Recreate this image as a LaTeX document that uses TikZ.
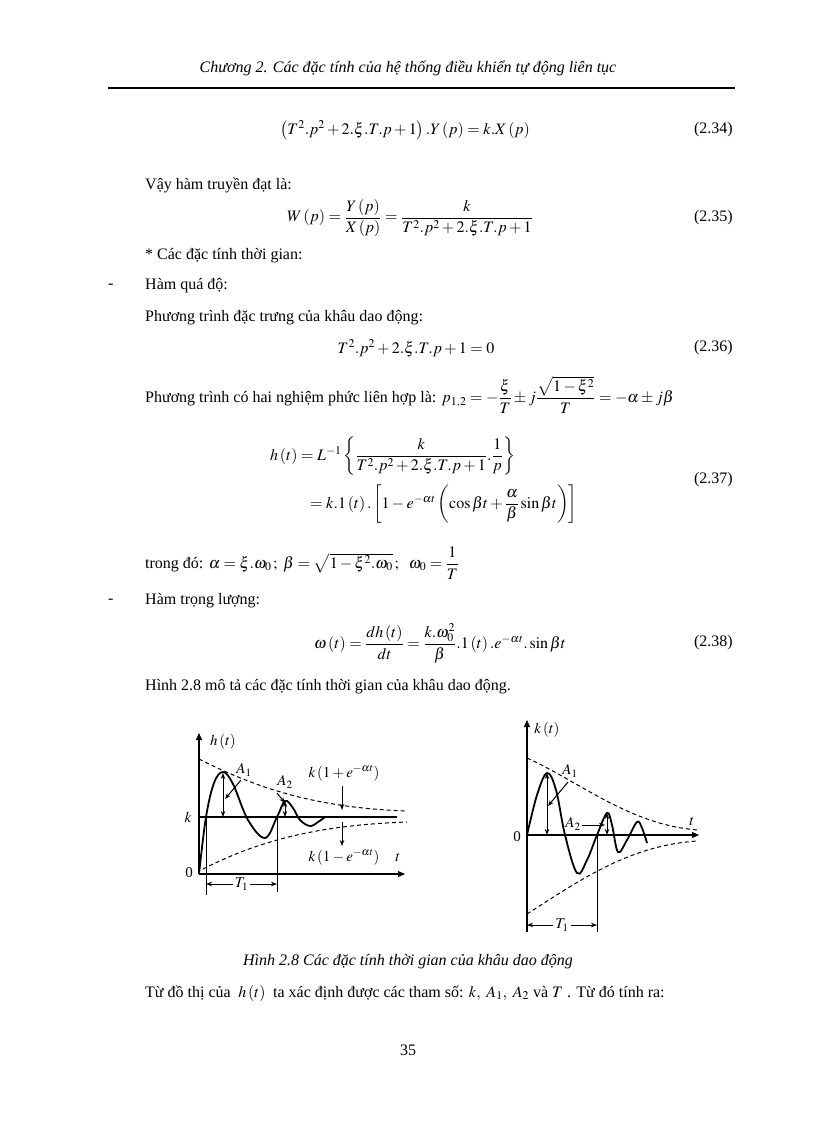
\documentclass[tikz,border=0pt]{standalone}
\usepackage{amsmath}
\usepackage{mathptmx}
\usepackage{fontspec}
\setmainfont{Liberation Serif}
\usetikzlibrary{arrows.meta}
\begin{document}
\begin{tikzpicture}[x=1pt,y=-1pt,
  txt/.style={anchor=west,inner sep=0pt,font=\fontsize{16}{19}\selectfont},
  eq/.style={inner sep=0pt,font=\fontsize{16}{19}\selectfont},
  lab/.style={anchor=east,inner sep=0pt,font=\fontsize{16}{19}\selectfont},
  axis/.style={line width=1.1pt,-{Triangle[length=7pt,width=6pt]}},
  curve/.style={line width=1.8pt},
  env/.style={line width=1pt,dash pattern=on 4pt off 3pt},
  dim/.style={line width=1pt,{Stealth[length=6pt]}-{Stealth[length=6pt]}},
  poin/.style={line width=1pt,-{Stealth[length=6pt]}},
  plab/.style={inner sep=0pt,font=\fontsize{15}{18}\selectfont}]
\useasboundingbox (0,0) rectangle (816,1123);
\node[eq,font=\fontsize{16}{19}\itshape] (hdr) at (408,68) {Chương 2. Các đặc tính của hệ thống điều khiển tự động liên tục};
\draw[line width=1.6pt] (108,88) -- (735,88);
\node[eq] (e34) at (405,130) {$\left(T^2.p^2+2.\xi.T.p+1\right).Y\left(p\right)=k.X\left(p\right)$};
\node[lab] at (733,130) {(2.34)};
\node[txt] at (145,185) {Vậy hàm truyền đạt là:};
\node[eq] (e35) at (410,218) {$W\left(p\right)=\dfrac{Y\left(p\right)}{X\left(p\right)}=\dfrac{k}{T^2.p^2+2.\xi.T.p+1}$};
\node[lab] at (733,218) {(2.35)};
\node[txt] at (145,256) {* Các đặc tính thời gian:};
\node[txt] at (108,286) {-};
\node[txt] at (145,286) {Hàm quá độ:};
\node[txt] at (145,318) {Phương trình đặc trưng của khâu dao động:};
\node[eq] (e36) at (416,348) {$T^2.p^2+2.\xi.T.p+1=0$};
\node[lab] at (733,348) {(2.36)};
\node[txt] at (145,395) {Phương trình có hai nghiệm phức liên hợp là: $p_{1,2}=-\dfrac{\xi}{T}\pm j\dfrac{\sqrt{1-\xi^2}}{T}=-\alpha\pm j\beta$};
\node[txt] (e37a) at (270,456) {$h\left(t\right)=L^{-1}\left\{\dfrac{k}{T^2.p^2+2.\xi.T.p+1}.\dfrac{1}{p}\right\}$};
\node[txt] (e37b) at (310,504) {$=k.1\left(t\right).\left[1-e^{-\alpha t}\left(\cos\beta t+\dfrac{\alpha}{\beta}\sin\beta t\right)\right]$};
\node[lab] at (733,480) {(2.37)};
\node[txt] at (145,563) {trong đó: $\alpha=\xi.\omega_0\,;\ \beta=\sqrt{1-\xi^2.\omega_0}\,;\ \ \omega_0=\dfrac{1}{T}$};
\node[txt] at (108,601) {-};
\node[txt] at (145,601) {Hàm trọng lượng:};
\node[eq] (e38) at (440,643) {$\omega\left(t\right)=\dfrac{dh\left(t\right)}{dt}=\dfrac{k.\omega_0^2}{\beta}.1\left(t\right).e^{-\alpha t}.\sin\beta t$};
\node[lab] at (733,643) {(2.38)};
\node[txt] at (145,687) {Hình 2.8 mô tả các đặc tính thời gian của khâu dao động.};
% ---------- plot 1
\coordinate (o1) at (199,874);
\coordinate (y1) at (199,733);
\coordinate (x1) at (405,874);
\draw[axis] (o1) -- (y1);
\draw[axis] (o1) -- (x1);
\draw[line width=1.3pt] (199,817) -- (397,817);
\draw[env] (199,759) .. controls (260,790) and (320,808) .. (407,811);
\draw[env] (203,869) .. controls (260,840) and (320,825) .. (407,822);
\draw[curve] plot[smooth,tension=0.6] coordinates {(199,874) (206,817) (214,783) (223,772) (233,784) (248,820) (265,838) (277,817) (285,801) (293,808) (300,820) (310,826) (318,822) (325,817)};
\draw[line width=1pt] (206,817) -- (206,895);
\draw[line width=1pt] (277,817) -- (277,892);
\draw[dim] (206,884) -- node[plab,fill=white,inner xsep=2pt] {$T_1$} (277,884);
\draw[dim] (223,773) -- (223,817);
\draw[dim] (285,801) -- (285,817);
\draw[poin] (241,780) -- (225,799);
\draw[poin] (277,793) -- (285,803);
\draw[poin] (342,786) -- (342,810);
\draw[poin] (342,822) -- (342,846);
\node[plab] at (223,742) {$h\left(t\right)$};
\node[plab] at (244,770) {$A_1$};
\node[plab] at (285,782) {$A_2$};
\node[plab] at (344,773) {$k\left(1+e^{-\alpha t}\right)$};
\node[plab] at (344,857) {$k\left(1-e^{-\alpha t}\right)$};
\node[plab] at (398,858) {$t$};
\node[plab] at (188,817) {$k$};
\node[plab] at (189,873) {0};
% ---------- plot 2
\coordinate (o2) at (527,835);
\draw[axis] (527,932) -- (527,720);
\draw[axis] (o2) -- (699,835);
\draw[env] (527,758) .. controls (580,782) and (630,825) .. (698,830);
\draw[env] (527,914) .. controls (580,880) and (630,845) .. (698,841);
\draw[curve] plot[smooth,tension=0.6] coordinates {(527,835) (537,795) (547,773) (556,790) (565,835) (577,873) (587,860) (597,835) (607,813) (612,825) (618,852) (627,840) (637,822) (642,828) (647,843)};
\draw[line width=1pt] (597,835) -- (597,932);
\draw[dim] (527,925) -- node[plab,fill=white,inner xsep=2pt] {$T_1$} (597,925);
\draw[dim] (547,773) -- (547,835);
\draw[dim] (607,813) -- (607,835);
\draw[poin] (568,782) -- (548,806);
\draw[poin] (582,825) -- (605,825);
\node[plab] at (547,730) {$k\left(t\right)$};
\node[plab] at (570,771) {$A_1$};
\node[plab] at (573,824) {$A_2$};
\node[plab] at (692,822) {$t$};
\node[plab] at (517,837) {0};
% caption
\node[eq,font=\fontsize{16}{19}\itshape] at (408,962) {Hình 2.8 Các đặc tính thời gian của khâu dao động};
\node[txt] at (145,993) {Từ đồ thị của $\;h\left(t\right)\;$ ta xác định được các tham số: $k,\ A_1,\ A_2$ và $T$ . Từ đó tính ra:};
\node[eq] at (408,1050) {35};
\end{tikzpicture}
\end{document}
